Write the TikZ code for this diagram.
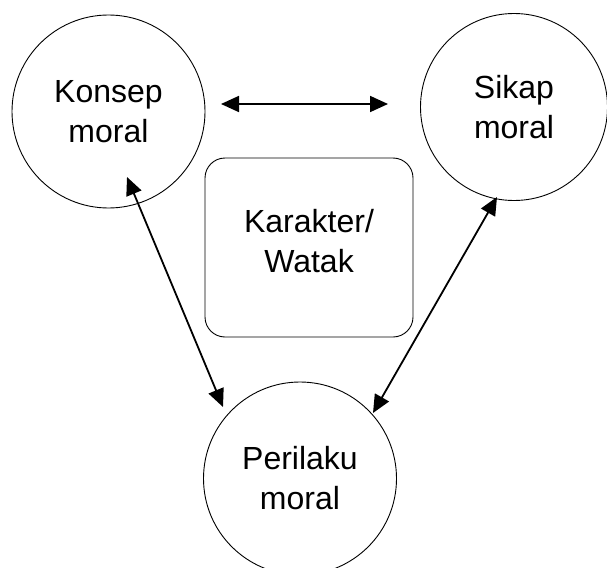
\documentclass[tikz,border=0pt]{standalone}
\usepackage{fontspec}
\setmainfont{Liberation Sans}
\usetikzlibrary{arrows.meta}
\begin{document}
\begin{tikzpicture}[x=1pt,y=-1pt,
  circ/.style={draw,circle,line width=0.9pt,inner sep=0pt,align=center,
    font=\fontsize{32}{40}\selectfont},
  rbox/.style={draw,rounded corners=20pt,line width=0.9pt,align=center,
    font=\fontsize{32}{40}\selectfont},
  link/.style={line width=1.8pt,{Triangle[length=18pt,width=16pt]}-{Triangle[length=18pt,width=16pt]}}]
\useasboundingbox (0,0) rectangle (607,567);
\node[circ,minimum size=193pt] (konsep) at (108.5,111.5) {Konsep\\moral};
\node[circ,minimum size=187pt] (sikap) at (514,107) {Sikap\\moral};
\node[circ,minimum size=193pt] (perilaku) at (300,478.5) {Perilaku\\moral};
\node[rbox,minimum width=208pt,minimum height=179pt] (karakter) at (309,247.5) {};
\node[font=\fontsize{32}{40}\selectfont,align=center] (ktext) at (309,241) {Karakter/\\Watak};
\coordinate (h1) at (221,104);
\coordinate (h2) at (388,104);
\coordinate (k1) at (127,177);
\coordinate (p1) at (223,407);
\coordinate (s1) at (497,197);
\coordinate (p2) at (373,413);
\draw[link] (h1) -- (h2);
\draw[link] (k1) -- (p1);
\draw[link] (s1) -- (p2);
\end{tikzpicture}
\end{document}
